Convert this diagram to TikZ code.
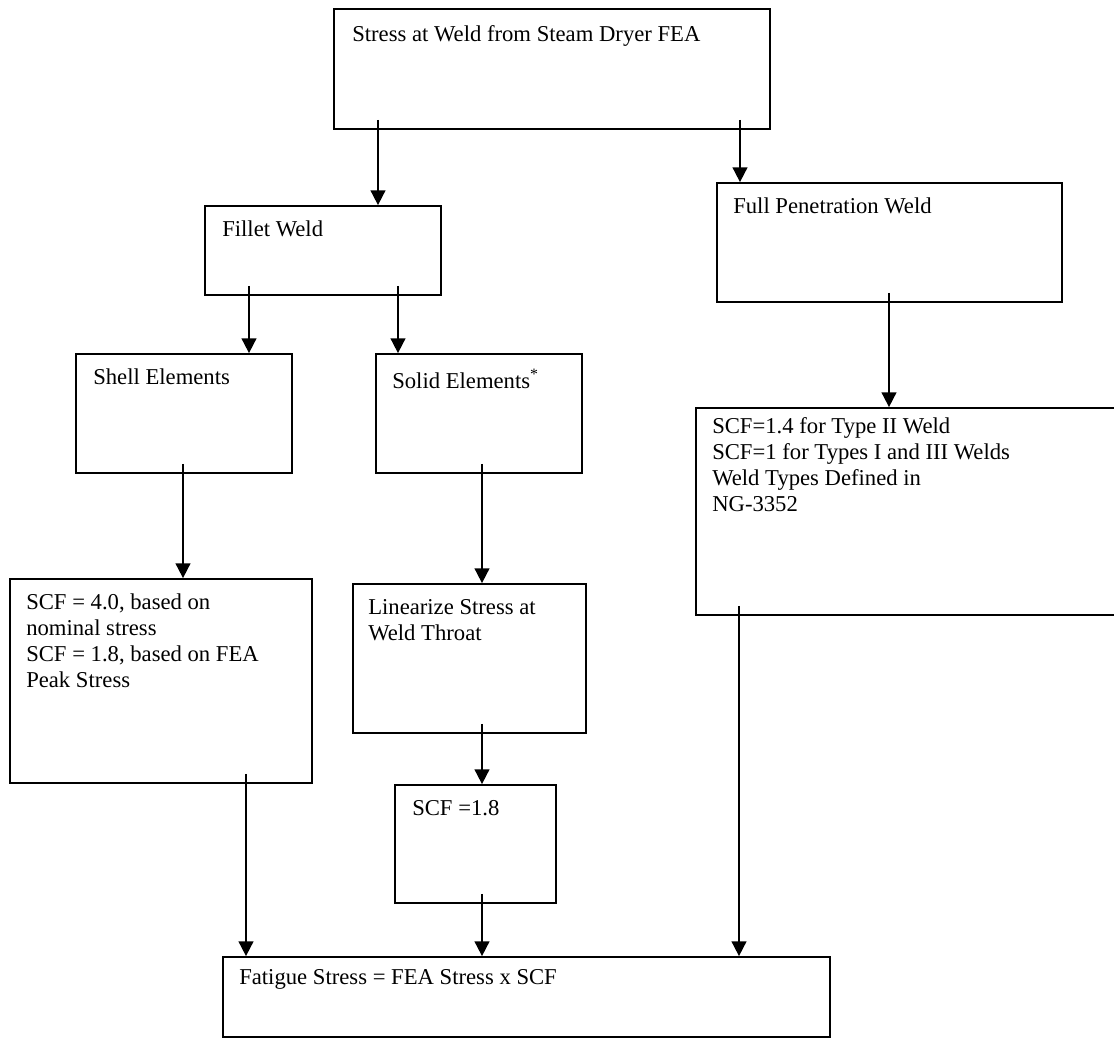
\documentclass[tikz,border=0pt]{standalone}
\usepackage{fontspec}
\setmainfont{Liberation Serif}
\usetikzlibrary{arrows.meta,fit}

\begin{document}
\begin{tikzpicture}[x=0.75pt, y=-0.75pt,
	box/.style={draw, line width=1.3pt, inner sep=0pt},
	txt/.style={anchor=north west, align=left, inner sep=0pt, font=\fontsize{17}{19.5}\selectfont},
	arr/.style={line width=1.3pt, shorten <=-7.5pt, -{Triangle[length=11pt, width=11pt]}}]
			%%%%% START %%%%%
			\useasboundingbox (0,0) rectangle (1114,1041);
			
			% boxes
			\node[box, fit={(334,9) (770,129)}] (stress) {};
			\node[box, fit={(205,206) (441,295)}] (fillet) {};
			\node[box, fit={(717,183) (1062,302)}] (fullpen) {};
			\node[box, fit={(76,354) (292,473)}] (shell) {};
			\node[box, fit={(376,354) (582,473)}] (solid) {};
			\node[box, fit={(696,408) (1117,615)}] (scfright) {};
			\node[box, fit={(10,579) (312,783)}] (scffour) {};
			\node[box, fit={(353,584) (586,733)}] (linear) {};
			\node[box, fit={(395,785) (556,903)}] (scfone) {};
			\node[box, fit={(223,957) (830,1037)}] (fatigue) {};
			
			% texts
			\node[txt] (stress-t) at (352,25) {Stress at Weld from Steam Dryer FEA};
			\node[txt] (fillet-t) at (222,221) {Fillet Weld};
			\node[txt] (fullpen-t) at (733,198) {Full Penetration Weld};
			\node[txt] (shell-t) at (93,369) {Shell Elements};
			\node[txt] (solid-t) at (392,369) {Solid Elements\textsuperscript{*}};
			\node[txt] (scfright-t) at (712,417) {SCF=1.4 for Type II Weld\\SCF=1 for Types I and III Welds\\Weld Types Defined in\\NG-3352};
			\node[txt] (scffour-t) at (26,594) {SCF = 4.0, based on\\nominal stress\\SCF = 1.8, based on FEA\\Peak Stress};
			\node[txt] (linear-t) at (368,599) {Linearize Stress at\\Weld Throat};
			\node[txt] (scfone-t) at (412,800) {SCF =1.8};
			\node[txt] (fatigue-t) at (239,969) {Fatigue Stress = FEA Stress x SCF};
			
			% arrow columns
			\coordinate (c1) at (378,0);
			\coordinate (c2) at (740,0);
			\coordinate (c3) at (249,0);
			\coordinate (c4) at (398,0);
			\coordinate (c5) at (889,0);
			\coordinate (c6) at (183,0);
			\coordinate (c7) at (482,0);
			\coordinate (c8) at (246,0);
			\coordinate (c9) at (739,0);
			
			\draw[arr] (c1 |- stress.south) -- (c1 |- fillet.north);
			\draw[arr] (c2 |- stress.south) -- (c2 |- fullpen.north);
			\draw[arr] (c3 |- fillet.south) -- (c3 |- shell.north);
			\draw[arr] (c4 |- fillet.south) -- (c4 |- solid.north);
			\draw[arr] (c5 |- fullpen.south) -- (c5 |- scfright.north);
			\draw[arr] (c6 |- shell.south) -- (c6 |- scffour.north);
			\draw[arr] (c7 |- solid.south) -- (c7 |- linear.north);
			\draw[arr] (c7 |- linear.south) -- (c7 |- scfone.north);
			\draw[arr] (c7 |- scfone.south) -- (c7 |- fatigue.north);
			\draw[arr] (c8 |- scffour.south) -- (c8 |- fatigue.north);
			\draw[arr] (c9 |- scfright.south) -- (c9 |- fatigue.north);
			
			%%%%% END %%%%%
\end{tikzpicture}
\end{document}
